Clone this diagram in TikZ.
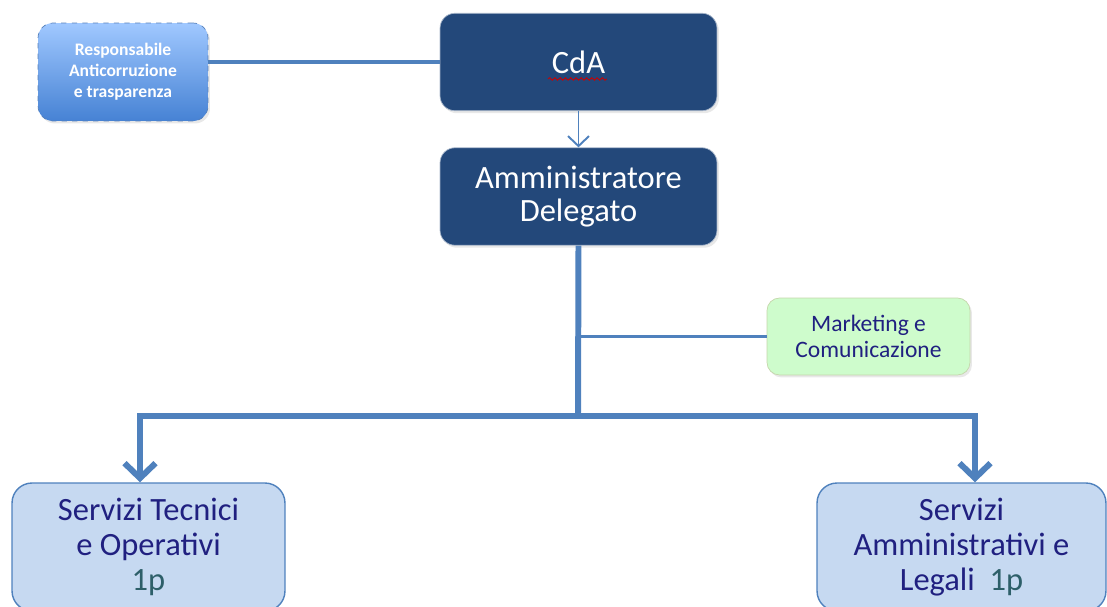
\documentclass[tikz,border=0pt]{standalone}
\usepackage{fontspec}
\setmainfont{Carlito}
\usepackage{xcolor}
\usetikzlibrary{arrows.meta,shadows,decorations.pathmorphing}

\definecolor{darkbox}{RGB}{35,72,122}
\definecolor{linkblue}{RGB}{79,129,189}
\definecolor{lightbox}{RGB}{198,217,241}
\definecolor{navytext}{RGB}{32,32,128}
\definecolor{tealtext}{RGB}{45,95,105}
\definecolor{mintbox}{RGB}{206,252,204}
\definecolor{mintline}{RGB}{196,214,170}
\definecolor{resptop}{RGB}{160,200,255}
\definecolor{respbot}{RGB}{70,130,212}

\begin{document}
\begin{tikzpicture}[x=0.02cm,y=-0.02cm,
	soft/.style={drop shadow={opacity=0.18,shadow xshift=0.04cm,shadow yshift=-0.05cm}},
	head/.style={draw=white!60!darkbox, fill=darkbox, rounded corners=0.3cm, soft,
		minimum width=5.54cm, minimum height=1.95cm, align=center, text=white,
		font=\fontsize{18.5}{19}\selectfont},
	office/.style={draw=linkblue, line width=0.8pt, fill=lightbox, rounded corners=0.4cm,
		minimum width=5.46cm, minimum height=2.56cm, align=center, text=navytext,
		font=\fontsize{18.5}{20}\selectfont},
	trunk/.style={draw=linkblue, line width=3.4pt},
	drop/.style={trunk, -{Straight Barb[length=0.3cm,width=0.62cm]}}]
	\useasboundingbox (0,0) rectangle (1107,607);
	\clip (0,0) rectangle (1107,607);

	\node[head] (cda) at (578.5,62) {CdA};
	\node[head] (ad) at (578.5,196.5) {Amministratore\\Delegato};
	\node[draw=respbot!70!gray, dashed, top color=resptop, bottom color=respbot, rounded corners=0.3cm, soft,
		minimum width=3.4cm, minimum height=1.96cm, align=center, text=white,
		font=\fontsize{10}{12}\selectfont\bfseries] (resp) at (123,72) {Responsabile\\Anticorruzione\\e trasparenza};
	\node[draw=mintline, fill=mintbox, rounded corners=0.25cm, soft,
		minimum width=4.06cm, minimum height=1.54cm, align=center, text=navytext,
		font=\fontsize{13.4}{14.7}\selectfont] (mkt) at (868.5,336.5) {Marketing e\\Comunicazione};
	\node[office] (tec) at (148.5,547) {Servizi Tecnici\\e Operativi\\\textcolor{tealtext}{1p}};
	\node[office, minimum width=5.78cm] (amm) at (961.5,547) {Servizi\\Amministrativi e\\Legali\ \ \textcolor{tealtext}{1p}};

	% spell-check squiggle under CdA
	\draw[red!80!black, line width=0.5pt, decorate, decoration={snake,amplitude=0.7pt,segment length=3pt}]
		([xshift=-0.61cm,yshift=-0.34cm]cda.center) -- ([xshift=0.57cm,yshift=-0.34cm]cda.center);

	\draw[linkblue, line width=2.2pt] (resp.east |- cda.west) -- (cda.west);
	\draw[linkblue, line width=1.1pt, -{Straight Barb[length=0.2cm,width=0.42cm]}] (cda.south) -- (ad.north);
	\coordinate (bus) at (578,416);
	\draw[trunk] (ad.south) -- (bus);
	\draw[linkblue, line width=1.7pt] (ad.south |- mkt.west) -- (mkt.west);
	\draw[drop] (bus) -| ([xshift=-0.17cm]tec.north);
	\draw[drop] (bus) -| ([xshift=0.27cm]amm.north);
\end{tikzpicture}
\end{document}
